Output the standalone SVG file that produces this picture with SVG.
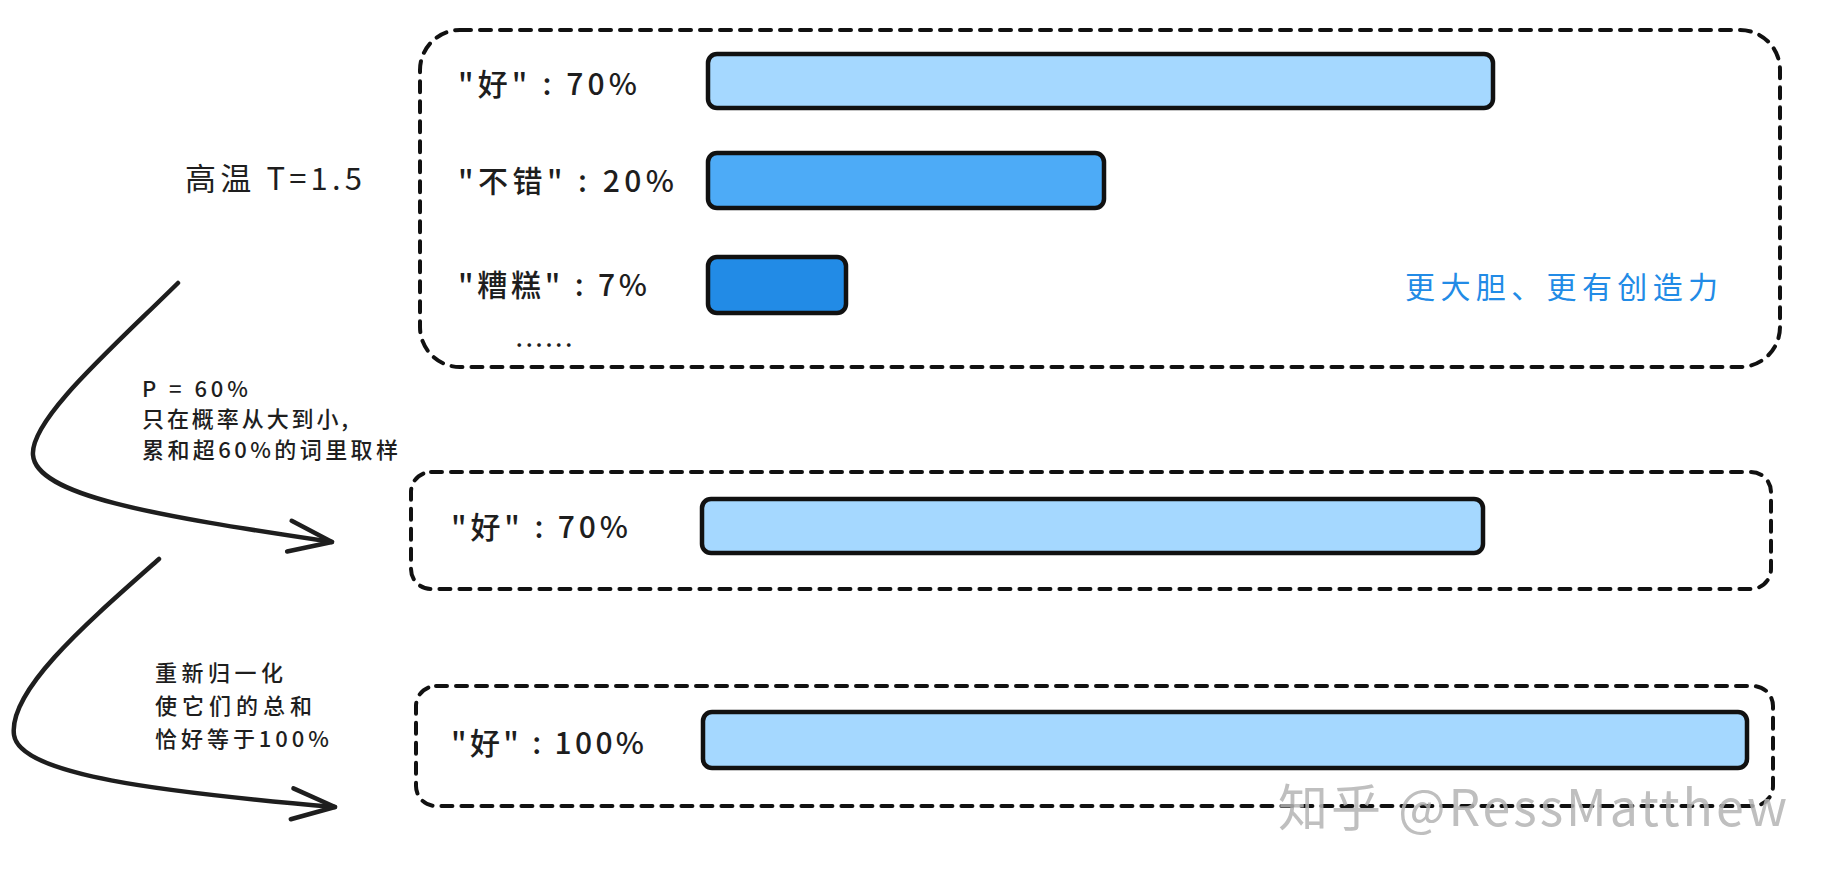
<svg xmlns="http://www.w3.org/2000/svg" width="1834" height="876" viewBox="0 0 1834 876">
<style>
text{font-family:"Noto Sans CJK SC","Noto Sans",sans-serif;fill:#1e1e1e}
.box{fill:none;stroke:#111;stroke-width:4;stroke-dasharray:11 9;stroke-linecap:round}
.bar{stroke:#111;stroke-width:4.5}
.c1{fill:#a5d8ff}.c2{fill:#4dabf7}.c3{fill:#228be6}
.lbl{font-size:30px;font-weight:500}
.note{font-size:22px;font-weight:500}
.conn{fill:none;stroke:#1e1e1e;stroke-width:4.5;stroke-linecap:round}
</style>
<defs>
<marker id="arrow" markerUnits="userSpaceOnUse" viewBox="-50 -25 60 50" markerWidth="60" markerHeight="50" refX="0" refY="0" orient="auto" overflow="visible">
<path d="M-43,-15 L0,0 L-43,16" fill="none" stroke="#1e1e1e" stroke-width="4.5" stroke-linecap="round" stroke-linejoin="round"/>
</marker>
</defs>
<rect width="1834" height="876" fill="#ffffff"/>
<g id="title">
<text x="185" y="190" style="font-size:31px" textLength="177" lengthAdjust="spacing">高温 T=1.5</text>
</g>
<g id="box-high-temp">
<rect class="box" x="420" y="30" width="1360" height="337" rx="40"/>
<rect class="bar c1" x="708" y="54" width="785" height="54" rx="9"/>
<rect class="bar c2" x="708" y="153" width="396" height="55" rx="9"/>
<rect class="bar c3" x="708" y="257" width="138" height="56" rx="9"/>
<text class="lbl" x="458" y="95" textLength="179" lengthAdjust="spacing">"好" : 70%</text>
<text class="lbl" x="458" y="192" textLength="216" lengthAdjust="spacing">"不错" : 20%</text>
<text class="lbl" x="458" y="296" textLength="189" lengthAdjust="spacing">"糟糕" : 7%</text>
<text x="516" y="347" style="font-size:20px;font-weight:700" textLength="56" lengthAdjust="spacing">......</text>
<text x="1405" y="298" style="font-size:30px;fill:#228be6" textLength="313" lengthAdjust="spacing">更大胆、更有创造力</text>
</g>
<g id="box-top-p">
<rect class="box" x="411" y="472" width="1360" height="117" rx="20"/>
<rect class="bar c1" x="702" y="499" width="781" height="54" rx="9"/>
<text class="lbl" x="451" y="538" textLength="177" lengthAdjust="spacing">"好" : 70%</text>
</g>
<g id="box-normalized">
<rect class="box" x="416" y="686" width="1357" height="120" rx="20"/>
<rect class="bar c1" x="703" y="712" width="1044" height="56" rx="9"/>
<text class="lbl" x="451" y="754" textLength="193" lengthAdjust="spacing">"好" : 100%</text>
</g>
<g id="note-top-p">
<text class="note" x="142" y="397" textLength="106" lengthAdjust="spacing">P = 60%</text>
<text class="note" x="142" y="427" textLength="206" lengthAdjust="spacing">只在概率从大到小,</text>
<text class="note" x="142" y="458" textLength="256" lengthAdjust="spacing">累和超60%的词里取样</text>
</g>
<g id="note-normalize">
<text class="note" x="155" y="681" textLength="128" lengthAdjust="spacing">重新归一化</text>
<text class="note" x="155" y="714" textLength="157" lengthAdjust="spacing">使它们的总和</text>
<text class="note" x="155" y="747" textLength="174" lengthAdjust="spacing">恰好等于100%</text>
</g>
<g id="connectors">
<path class="conn" d="M178,283 C110,350 30,420 33,455 C36,495 150,515 332,542" marker-end="url(#arrow)"/>
<path class="conn" d="M159,559 C90,620 8,690 14,735 C20,775 160,792 335,807" marker-end="url(#arrow)"/>
</g>
<g id="watermark">
<text x="1278" y="826" style="font-size:50px;fill:#b4b4b4;opacity:0.85" textLength="509" lengthAdjust="spacing">知乎 @RessMatthew</text>
</g>
</svg>
